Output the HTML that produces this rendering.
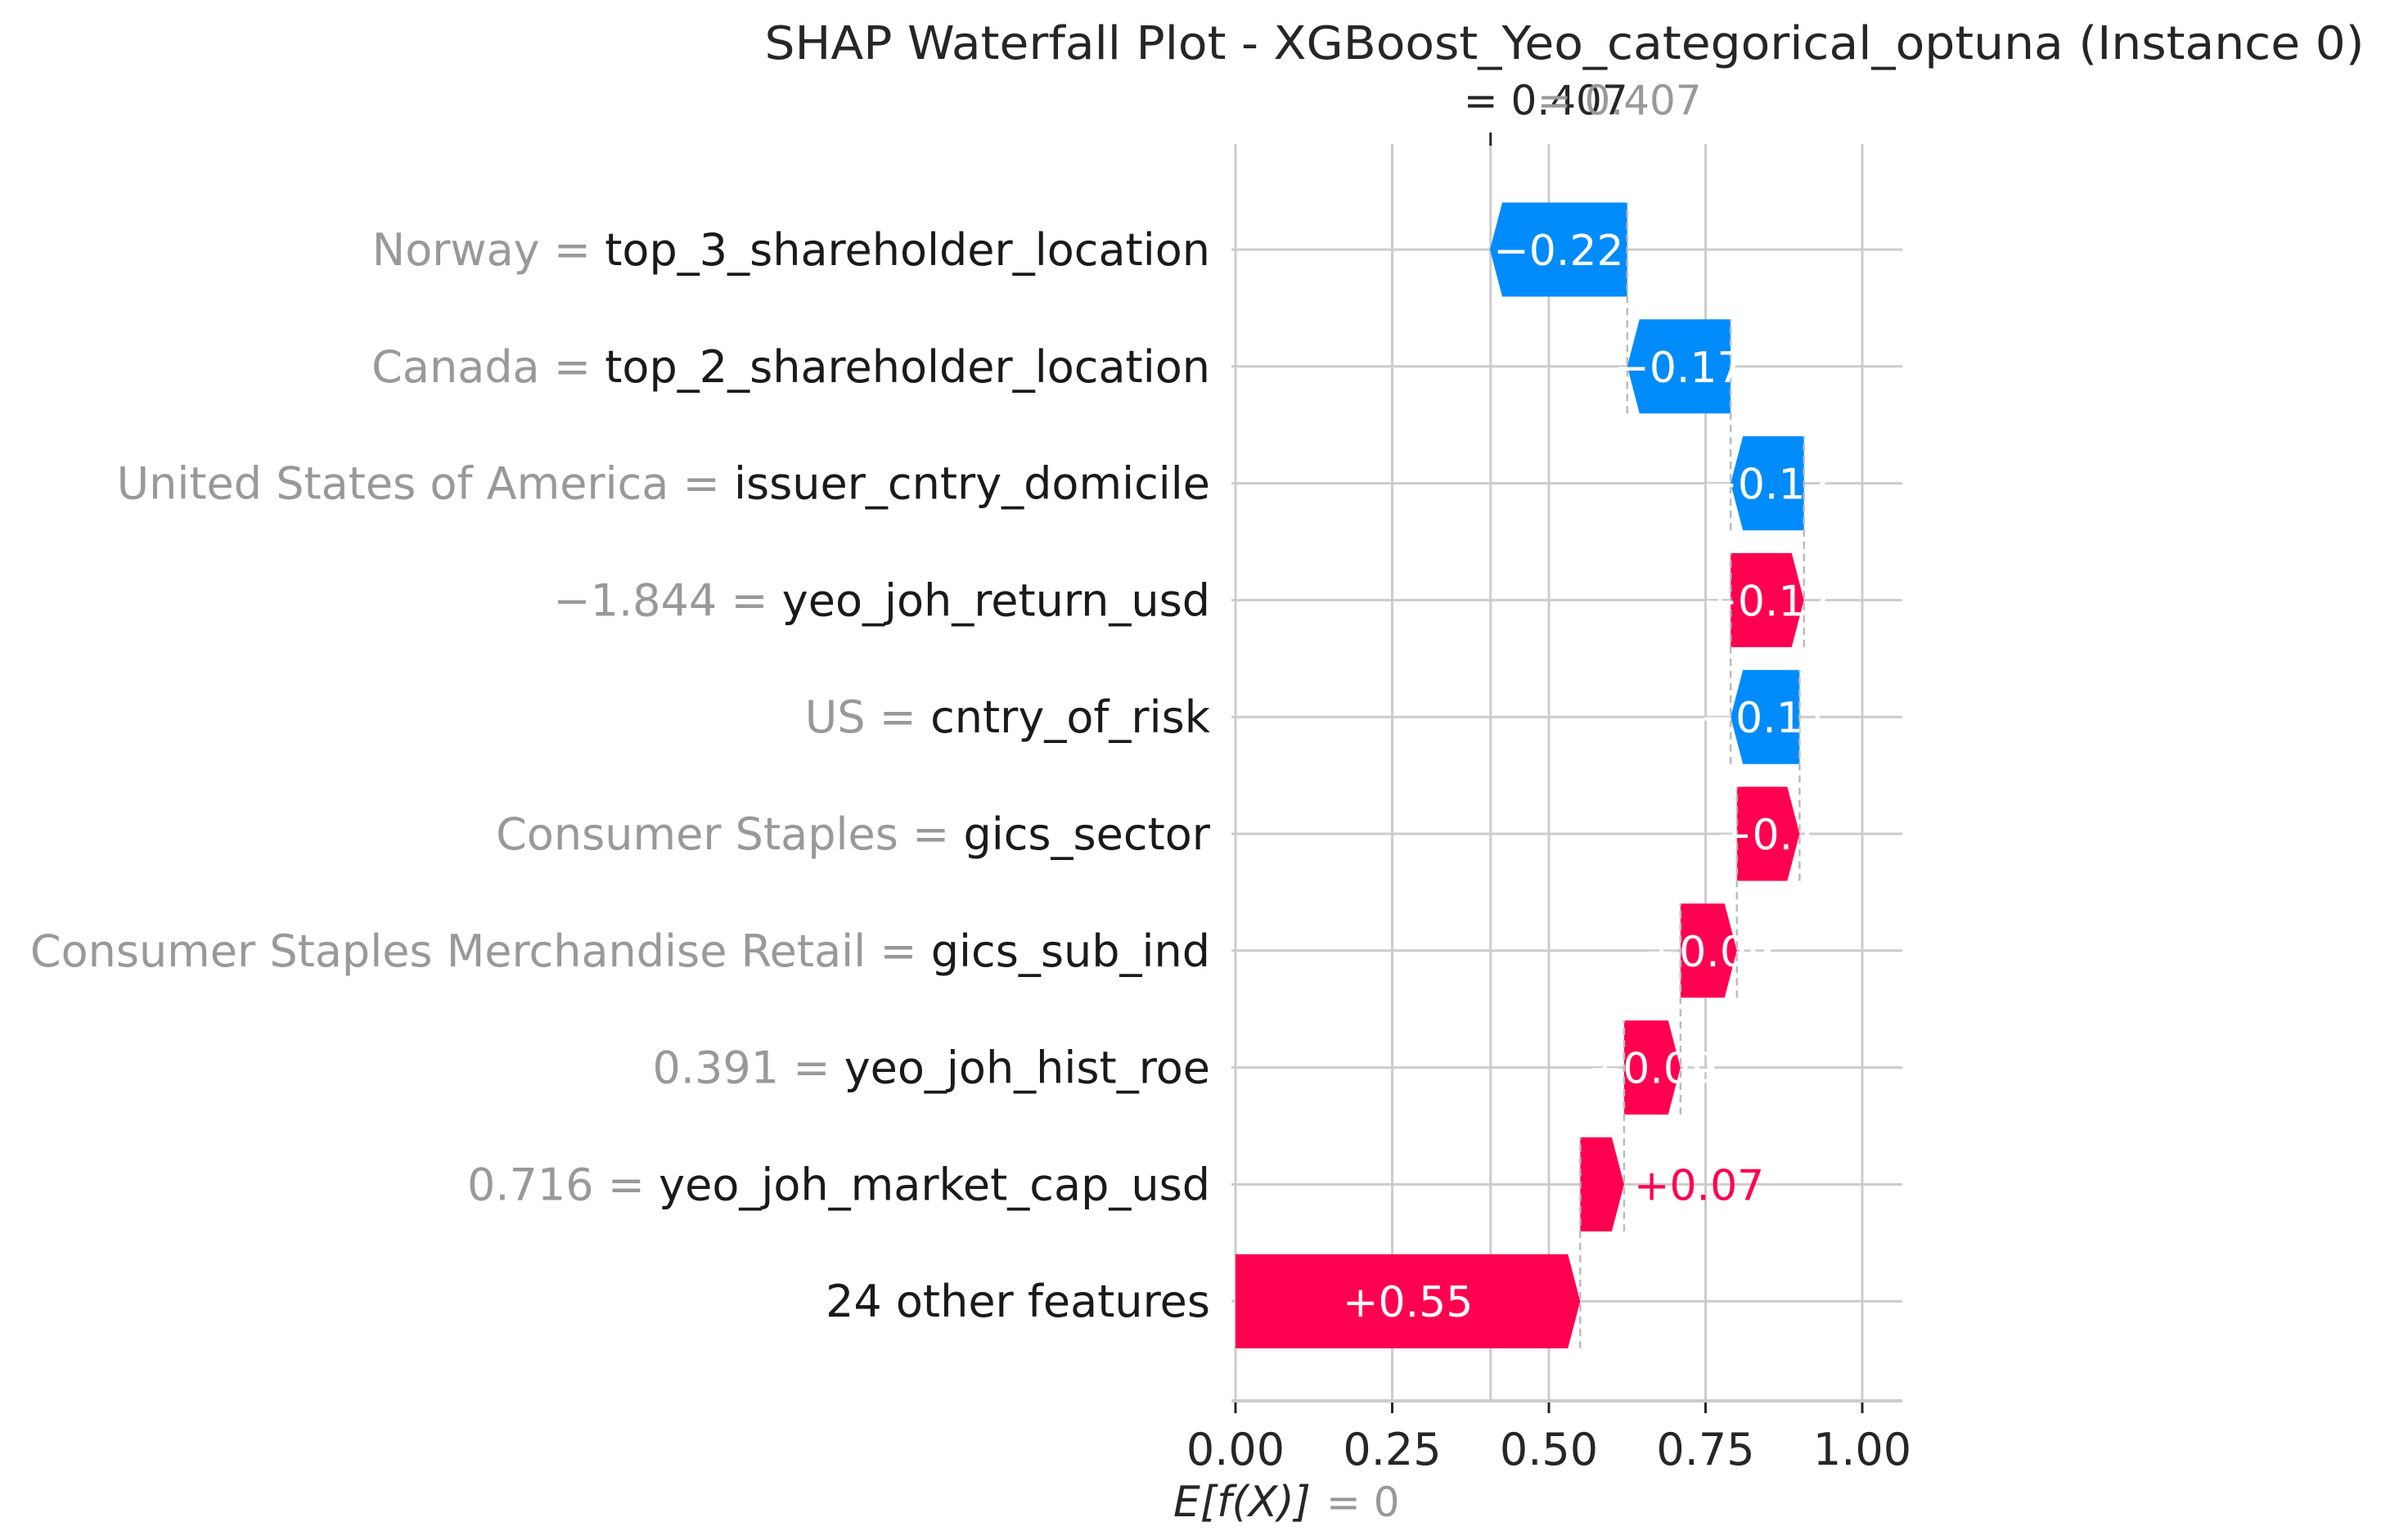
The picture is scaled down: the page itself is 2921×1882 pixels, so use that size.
<!DOCTYPE html>
<html><head><meta charset="utf-8"><style>
html,body{margin:0;padding:0;background:#fff;}
svg{display:block;font-family:"DejaVu Sans","Liberation Sans",sans-serif;}
</style></head><body>
<svg id="chart" width="2921" height="1882" viewBox="0 0 2921 1882" xmlns="http://www.w3.org/2000/svg">
<text x="1912" y="72" text-anchor="middle" font-size="56" fill="#262626" textLength="1955" lengthAdjust="spacingAndGlyphs">SHAP Waterfall Plot - XGBoost_Yeo_categorical_optuna (Instance 0)</text>
<g id="grid"></g>
<g id="bars"></g>
<g id="labels"></g>
</svg>
<script>
const featureNames = ["top_3_shareholder_location","top_2_shareholder_location","issuer_cntry_domicile","yeo_joh_return_usd","cntry_of_risk","gics_sector","gics_sub_ind","yeo_joh_hist_roe","yeo_joh_market_cap_usd","24 other features"];
const featureValues = ["Norway","Canada","United States of America","\u22121.844","US","Consumer Staples","Consumer Staples Merchandise Retail","0.391","0.716",""];
const shapValues = [-0.219,-0.165,-0.117,0.117,-0.11,0.10,0.09,0.09,0.07,0.55];
const valueLabels = ["\u22120.22","\u22120.17","\u22120.12","+0.12","\u22120.11","+0.1","+0.09","+0.09","+0.07","+0.55"];
const tickValues = [0,0.25,0.5,0.75,1.0];
const tickLabels = ["0.00","0.25","0.50","0.75","1.00"];
const baseValue = 0;
const fxValue = 0.407;

const NS="http://www.w3.org/2000/svg";
const X0=1510, PX=766;
const xs=v=>X0+v*PX;
const ROW0=305, ROWH=142.8;
const ys=i=>ROW0+i*ROWH;
const BH=115, AXY=1712, GTOP=176, GL=1505, GR=2325;
function mk(tag,attrs,parent){const e=document.createElementNS(NS,tag);for(const k in attrs)e.setAttribute(k,attrs[k]);parent.appendChild(e);return e;}
const grid=document.getElementById('grid'), bars=document.getElementById('bars'), labels=document.getElementById('labels');

tickValues.forEach((t,i)=>{
  const l=mk('line',{x1:xs(t),x2:xs(t),y1:GTOP,y2:AXY,stroke:'#cccccc','stroke-width':3},grid);
  
  
  const tk=mk('line',{x1:xs(t),x2:xs(t),y1:AXY,y2:AXY+15,stroke:'#262626','stroke-width':3},grid);
  
  
  const tl=mk('text',{x:xs(t),y:1790,'text-anchor':'middle','font-size':54,fill:'#262626'},labels);
  tl.textContent=tickLabels[i];
  
  
});
featureNames.forEach((f,i)=>{
  const l=mk('line',{x1:GL,x2:GR,y1:ys(i),y2:ys(i),stroke:'#cccccc','stroke-width':3},grid);
  
  
});
const ax=mk('line',{x1:GL,x2:GR,y1:AXY,y2:AXY,stroke:'#cccccc','stroke-width':4},grid);



const n=shapValues.length;
const starts=new Array(n), ends=new Array(n);
let cur=baseValue;
for(let i=n-1;i>=0;i--){starts[i]=cur;cur+=shapValues[i];ends[i]=cur;}

for(let i=0;i<n;i++){
  const v=shapValues[i], pos=v>=0;
  const color=pos?'#ff0051':'#008bfb';
  const a=xs(starts[i]), b=xs(ends[i]);
  const yc=ys(i), yt=yc-BH/2, yb=yc+BH/2;
  const head=Math.min(15,Math.abs(b-a));
  let pts;
  if(pos) pts=[[a,yt],[b-head,yt],[b,yc],[b-head,yb],[a,yb]];
  else pts=[[a,yt],[b+head,yt],[b,yc],[b+head,yb],[a,yb]];
  const p=mk('polygon',{points:pts.map(q=>q.join(',')).join(' '),fill:color},bars);
  
  
  if(i>0){
    const d=mk('line',{x1:b,x2:b,y1:ys(i)+BH/2,y2:ys(i-1)-BH/2,stroke:'#bbbbbb','stroke-width':2.5,'stroke-dasharray':'9,6'},bars);
    
    
  }
  let t;
  if(Math.abs(v)<0.08){
    t=mk('text',{x:b+12,y:yc+19,'font-size':52,fill:color},labels);
  } else {
    t=mk('text',{x:(a+b)/2,y:yc+19,'font-size':52,fill:'#ffffff','text-anchor':'middle'},labels);
  }
  t.textContent=valueLabels[i];
  
  
  const fl=mk('text',{x:1479,y:yc+19,'text-anchor':'end','font-size':54,fill:'#1a1a1a'},labels);
  if(featureValues[i]!==''){
    const s1=mk('tspan',{fill:'#999999'},fl); s1.textContent=featureValues[i]+' = ';
  }
  const s2=mk('tspan',{},fl); s2.textContent=featureNames[i];
  
  
}
const fl2=mk('line',{x1:xs(fxValue),x2:xs(fxValue),y1:GTOP,y2:AXY,stroke:'#cccccc','stroke-width':3},grid);


const ft=mk('line',{x1:xs(fxValue),x2:xs(fxValue),y1:162,y2:178,stroke:'#262626','stroke-width':3},labels);


const fxl=mk('text',{x:xs(fxValue)-33,y:140,'font-size':50,fill:'#262626'},labels);
fxl.textContent='= '+fxValue.toFixed(3);


const fxg=mk('text',{x:xs(fxValue)+57,y:140,'font-size':50,fill:'#999999'},labels);
fxg.textContent='= '+fxValue.toFixed(3);


const ef=mk('text',{x:1434,y:1853,'font-size':52,fill:'#262626','font-style':'italic'},labels);
ef.textContent='E[f(X)]';


const eg=mk('text',{x:1621,y:1853,'font-size':50,fill:'#999999'},labels);
eg.textContent='= '+baseValue;


</script>
</body></html>
